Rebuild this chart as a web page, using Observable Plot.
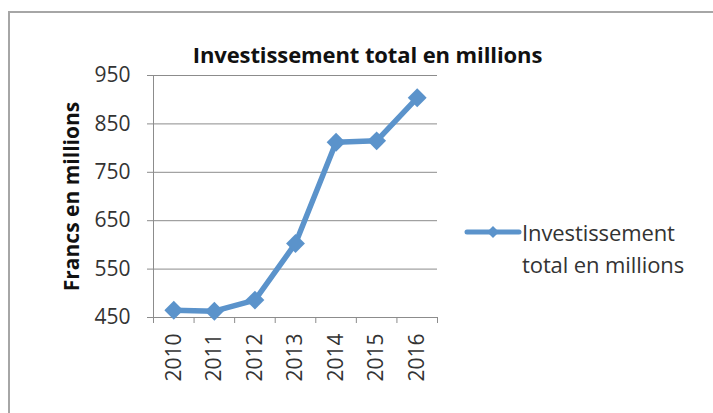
<!DOCTYPE html>
<html>
<head>
<meta charset="utf-8">
<script src="https://cdn.jsdelivr.net/npm/d3@7"></script>
<script src="https://cdn.jsdelivr.net/npm/@observablehq/plot@0.6"></script>
<style>
  html, body { margin: 0; padding: 0; background: #fff; }
  #wrap { position: relative; width: 713px; height: 413px; overflow: hidden; font-family: "Open Sans", sans-serif; }
  #border { position: absolute; left: 8px; top: 11px; width: 800px; height: 500px; border-left: 2px solid #a6a6a6; border-top: 2px solid #a6a6a6; box-sizing: border-box; }
  #title { position: absolute; left: 0; top: 39px; width: 735px; text-align: center; font-weight: bold; font-size: 22px; line-height: 30px; color: #111; letter-spacing: -0.1px; }
  #legend { position: absolute; left: 464px; top: 216px; }
  #legend svg { position: absolute; left: 0; top: 6px; }
  #legend .txt { position: absolute; left: 58px; top: 0; font-size: 22px; line-height: 32px; color: #333; white-space: nowrap; letter-spacing: -0.1px; }
  #chart { position: absolute; left: 0; top: 0; }
</style>
</head>
<body>
<div id="wrap">
  <div id="border"></div>
  <div id="chart"></div>
  <div id="title">Investissement total en millions</div>
  <div id="legend">
    <svg width="60" height="20"><line x1="3" y1="10" x2="55" y2="10" stroke="#5b93cb" stroke-width="5" stroke-linecap="round"/><path d="M29,4 L35,10 L29,16 L23,10 Z" fill="#5b93cb"/></svg>
    <div class="txt">Investissement<br>total en millions</div>
  </div>
</div>
<script>
const years = [2010, 2011, 2012, 2013, 2014, 2015, 2016];
const values = [465, 463, 486, 603, 812, 815, 904];
const yTicks = [450, 550, 650, 750, 850, 950];
const seriesName = "Investissement total en millions";
const yLabel = "Francs en millions";

const data = years.map((y, i) => ({year: y, value: values[i]}));
const bounds = d3.range(years[0] - 0.5, years[years.length - 1] + 1, 1);
const color = "#5b93cb";

const chart = Plot.plot({
  width: 713,
  height: 413,
  marginLeft: 153,
  marginRight: 276,
  marginTop: 75,
  marginBottom: 96,
  style: {fontFamily: "Open Sans, sans-serif", fontSize: "21px", color: "#333", background: "transparent"},
  x: {domain: [years[0] - 0.5, years[years.length - 1] + 0.5], axis: null},
  y: {domain: [450, 950], axis: null},
  marks: [
    Plot.gridY(yTicks, {stroke: "#8c8c8c", strokeOpacity: 1, strokeWidth: 1}),
    Plot.ruleX([years[0] - 0.5], {stroke: "#8c8c8c", strokeWidth: 1}),
    Plot.axisY({ticks: yTicks, tickSize: 6, tickPadding: 17, stroke: "#8c8c8c", fill: "#333", label: null, tickFormat: d => String(d)}),
    Plot.axisX({ticks: bounds, tickSize: 6, tickFormat: () => "", stroke: "#8c8c8c", label: null}),
    Plot.axisX({ticks: years, tickSize: 0, tickPadding: 16, tickRotate: -90, tickFormat: d => String(d), fill: "#333", label: null}),
    Plot.text([yLabel], {frameAnchor: "left", dx: -81, rotate: -90, textAnchor: "middle", fontWeight: "bold", fill: "#111", fontSize: 21}),
    Plot.line(data, {x: "year", y: "value", stroke: color, strokeWidth: 5.5, strokeLinejoin: "round"}),
    Plot.dot(data, {x: "year", y: "value", symbol: "diamond2", r: 8.5, fill: color, stroke: "none"})
  ]
});
document.getElementById("chart").appendChild(chart);
</script>
</body>
</html>
